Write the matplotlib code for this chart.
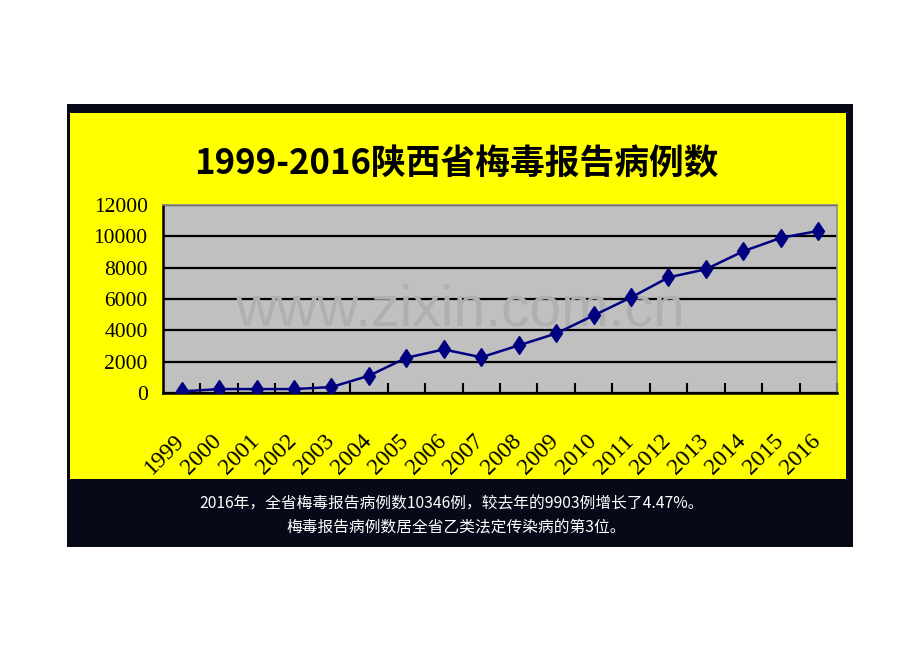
import matplotlib
matplotlib.use("Agg")
import matplotlib.pyplot as plt
from matplotlib.patches import Rectangle
from matplotlib.transforms import ScaledTranslation

years = ["1999", "2000", "2001", "2002", "2003", "2004", "2005", "2006", "2007",
         "2008", "2009", "2010", "2011", "2012", "2013", "2014", "2015", "2016"]
cases = [100, 250, 250, 250, 380, 1100, 2250, 2780, 2280,
         3040, 3800, 4950, 6100, 7380, 7900, 9050, 9903, 10346]
yticks = [0, 2000, 4000, 6000, 8000, 10000, 12000]

title = "1999-2016陕西省梅毒报告病例数"
note1 = "2016年，全省梅毒报告病例数10346例，较去年的9903例增长了4.47%。"
note2 = "梅毒报告病例数居全省乙类法定传染病的第3位。"

CJK = ["Noto Sans CJK SC", "DejaVu Sans"]

fig = plt.figure(figsize=(9.2, 6.51), dpi=100)
fig.patch.set_facecolor("white")

# dark frame
fig.patches.append(Rectangle((67/920, 1-547/651), 786/920, 443/651,
                             transform=fig.transFigure, facecolor="#060a18",
                             edgecolor="none", zorder=0))
# yellow panel
fig.patches.append(Rectangle((70/920, 1-479/651), 776/920, 366/651,
                             transform=fig.transFigure, facecolor="#FFFF00",
                             edgecolor="none", zorder=1))

ax = fig.add_axes([163/920, 1-393/651, 674/920, 188/651])
ax.set_facecolor("#C0C0C0")
ax.set_zorder(2)

x = list(range(len(years)))
ax.plot(x, cases, color="#000080", linewidth=1.8, marker="d", markersize=9.5,
        markerfacecolor="#000080", markeredgecolor="#000080", zorder=3)

ax.set_xlim(-0.5, len(years) - 0.5)
ax.set_ylim(0, 12000)
ax.set_yticks(yticks)
ax.set_yticklabels([str(v) for v in yticks], fontsize=15.5, family="Liberation Serif")
ax.yaxis.grid(True, color="black", linewidth=1.6)
ax.set_axisbelow(True)
ax.tick_params(axis="y", length=0, pad=11)

ax.set_xticks(x)
ax.set_xticklabels(years, rotation=45, ha="right", rotation_mode="anchor",
                   fontsize=17, family="Liberation Serif")
ax.tick_params(axis="x", which="major", length=0, pad=27)
off = ScaledTranslation(-8/100, 0, fig.dpi_scale_trans)
for lab in ax.get_xticklabels():
    lab.set_transform(lab.get_transform() + off)
ax.set_xticks([i + 0.5 for i in range(len(years))], minor=True)
ax.tick_params(axis="x", which="minor", direction="in", length=7, width=1.5,
               color="black")

for s in ["left", "bottom"]:
    ax.spines[s].set_color("black")
    ax.spines[s].set_linewidth(1.8)
for s in ["top", "right"]:
    ax.spines[s].set_color("#8a8a8a")
    ax.spines[s].set_linewidth(1.2)

ax.text(0.44, 0.44, "www.zixin.com.cn", transform=ax.transAxes, ha="center",
        va="center", fontsize=41, family="Liberation Sans", color="#b0b0b0",
        zorder=1)

fig.text(456/920, 1-164/651, title, ha="center", va="center", fontsize=25,
         fontweight="bold", family=CJK, color="black", zorder=5)

fig.text(452/920, 1-504/651, note1, ha="center", va="center", fontsize=11.3,
         family=CJK, color="white", zorder=5)
fig.text(456/920, 1-528/651, note2, ha="center", va="center", fontsize=11.3,
         family=CJK, color="white", zorder=5)

fig.savefig("out.png", dpi=100, facecolor="white")
